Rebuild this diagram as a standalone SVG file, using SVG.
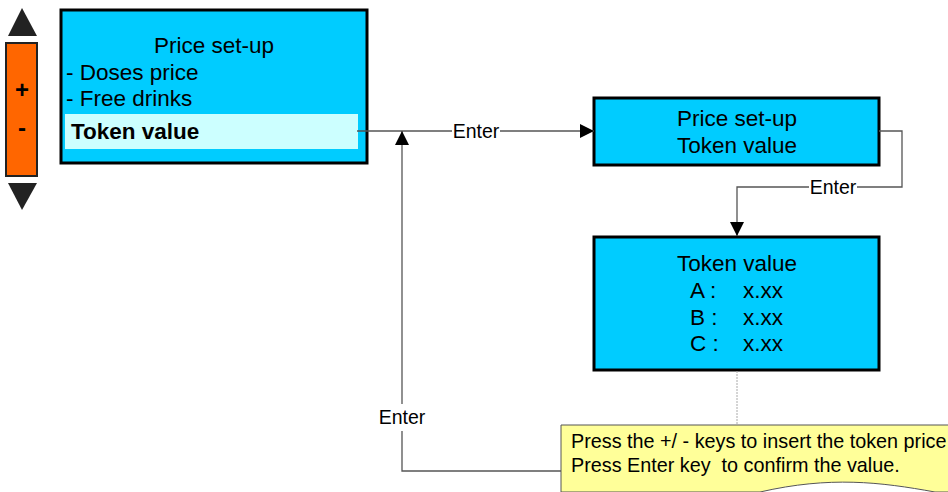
<svg xmlns="http://www.w3.org/2000/svg" width="948" height="492" viewBox="0 0 948 492">
<style>
.box{fill:#00CCFF;stroke:#000;stroke-width:3}
.t{font-family:"Liberation Sans",Arial,sans-serif;font-size:22.5px;fill:#000}
.c{text-anchor:middle}
.lbl{font-family:"Liberation Sans",Arial,sans-serif;font-size:19.5px;fill:#000}
.conn{fill:none;stroke:#555;stroke-width:1.3}
</style>
<defs>
<marker id="ah2" viewBox="0 0 14 14" refX="14" refY="7" markerWidth="14" markerHeight="14" markerUnits="userSpaceOnUse" orient="auto">
<path d="M0,0 L14,7 L0,14 Z" fill="#000"/>
</marker>
</defs>
<g id="keypad">
<path d="M8,36 L22,8 L37,36 Z" fill="#222"/>
<rect x="6" y="43" width="31" height="133" fill="#FF6600" stroke="#222" stroke-width="2"/>
<text class="t c" x="22" y="98" style="font-weight:bold;font-size:24px">+</text>
<text class="t c" x="22" y="136" style="font-weight:bold;font-size:24px">-</text>
<path d="M8,183 L37,183 L22,210 Z" fill="#222"/>
</g>
<g id="menu">
<rect class="box" x="61" y="10" width="306" height="153"/>
<text class="t c" x="214" y="53">Price set-up</text>
<text class="t" x="66" y="80">- Doses price</text>
<text class="t" x="66" y="106">- Free drinks</text>
<rect x="65" y="114" width="293" height="35" fill="#CCFFFF"/>
<text class="t" x="71" y="139" style="font-weight:bold">Token value</text>
</g>
<g id="setup">
<rect class="box" x="594" y="98" width="285" height="67"/>
<text class="t c" x="737" y="126">Price set-up</text>
<text class="t c" x="737" y="153">Token value</text>
</g>
<g id="values">
<rect class="box" x="594" y="237" width="285" height="133"/>
<text class="t c" x="737" y="271">Token value</text>
<text class="t" x="690" y="298">A :</text>
<text class="t" x="743" y="298">x.xx</text>
<text class="t" x="690" y="325">B :</text>
<text class="t" x="743" y="325">x.xx</text>
<text class="t" x="690" y="351">C :</text>
<text class="t" x="743" y="351">x.xx</text>
</g>
<g id="note">
<path d="M561,425 L950,425 L950,492 L935,492 C880,482 830,476 760,492 L561,492 Z" fill="#FFFF99" stroke="#555" stroke-width="1"/>
<text class="lbl" x="571" y="448" style="font-size:19.8px">Press the +/ - keys to insert the token price</text>
<text class="lbl" x="571" y="472" style="font-size:19.8px" xml:space="preserve">Press Enter key  to confirm the value.</text>
</g>
<g id="connectors">
<path class="conn" d="M500,131 L594,131" marker-end="url(#ah2)"/>
<path class="conn" d="M357,131 L452,131"/>
<text class="lbl c" x="476" y="138">Enter</text>
<path class="conn" d="M879,131 L902,131 L902,187 L857,187"/>
<path class="conn" d="M809,187 L737,187 L737,236" marker-end="url(#ah2)"/>
<text class="lbl c" x="833" y="194">Enter</text>
<path d="M737,371 L737,425" fill="none" stroke="#aaa" stroke-width="1" stroke-dasharray="2,1"/>
<path class="conn" d="M561,471 L402,471 L402,431"/>
<path class="conn" d="M402,404 L402,131" marker-end="url(#ah2)"/>
<text class="lbl c" x="402" y="424">Enter</text>
</g>
</svg>
